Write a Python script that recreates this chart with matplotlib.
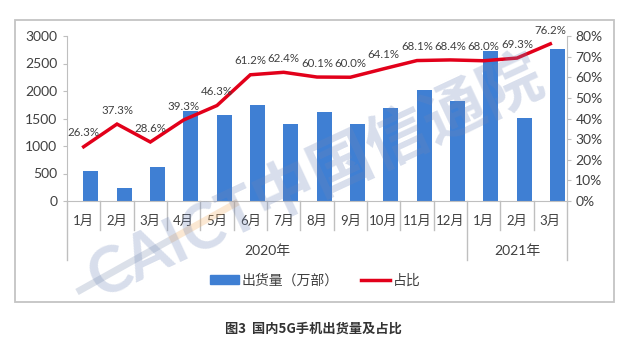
import matplotlib
matplotlib.use("Agg")
import matplotlib.pyplot as plt
from matplotlib.lines import Line2D
from matplotlib.patches import Patch, Rectangle
import numpy as np

plt.rcParams['font.family'] = ['Lato', 'Noto Sans CJK SC', 'DejaVu Sans']

months = ['1月', '2月', '3月', '4月', '5月', '6月', '7月', '8月', '9月',
          '10月', '11月', '12月', '1月', '2月', '3月']
years = ['2020年', '2021年']
year_spans = [12, 3]
shipments = [550, 240, 625, 1640, 1565, 1750, 1395, 1620, 1400,
             1685, 2010, 1825, 2730, 1515, 2760]
share = [26.3, 37.3, 28.6, 39.3, 46.3, 61.2, 62.4, 60.1, 60.0,
         64.1, 68.1, 68.4, 68.0, 69.3, 76.2]

blue = '#3f7fd3'
red = '#e2001a'
grey = '#bfbfbf'
txt = '#404040'

fig = plt.figure(figsize=(6.3, 3.39), dpi=100)
W, H = 630, 339

# outer frame
fig.patches.append(Rectangle((15 / W, 1 - 302 / H), 599 / W, 282 / H,
                             transform=fig.transFigure, fill=False,
                             ec='#c4c4c4', lw=1.3))

ax = fig.add_axes([67 / W, 1 - 201 / H, 500 / W, 165 / H])
x = np.arange(len(months))
ax.bar(x + 0.21, shipments, width=0.45, color=blue, zorder=2)
ax.set_xlim(-0.5, len(months) - 0.5)
ax.set_ylim(0, 3000)
ax.set_yticks(range(0, 3001, 500))
ax.set_xticks([])
ax.tick_params(axis='y', length=3, color=grey, labelcolor=txt, labelsize=10, pad=4)
for s in ['top', 'right']:
    ax.spines[s].set_visible(False)
for s in ['left', 'bottom']:
    ax.spines[s].set_color(grey)

ax2 = ax.twinx()
ax2.plot(x, share, color=red, lw=2.5, solid_joinstyle='miter', zorder=3)
ax2.set_ylim(0, 80)
ax2.set_yticks(range(0, 81, 10))
ax2.set_yticklabels([f'{v}%' for v in range(0, 81, 10)])
ax2.tick_params(axis='y', length=3, color=grey, labelcolor=txt, labelsize=10, pad=3)
for s in ['top', 'left', 'bottom']:
    ax2.spines[s].set_visible(False)
ax2.spines['right'].set_color(grey)
for xi, v in zip(x, share):
    ax2.annotate(f'{v:.1f}%', (xi, v), xytext=(0, 6), textcoords='offset points',
                 ha='center', va='bottom', fontsize=8.3, color=txt, clip_on=False)

# category axis: months, years, separators
tr = ax.get_xaxis_transform()
for xi, m in zip(x, months):
    ax.text(xi, -0.121, m, transform=tr, ha='center', va='center',
            fontsize=9.5, color=txt)
edges = np.cumsum([0] + year_spans)
for i in range(len(months) + 1):
    low = -0.358 if i in edges else -0.176
    ax.plot([i - 0.5, i - 0.5], [0, low], transform=tr, color=grey,
            lw=1, clip_on=False)
for yr, a, b in zip(years, edges[:-1], edges[1:]):
    ax.text((a + b - 1) / 2, -0.303, yr, transform=tr, ha='center',
            va='center', fontsize=10, color=txt)

fig.legend(handles=[Patch(color=blue), Line2D([], [], color=red, lw=2.5)],
           labels=['出货量（万部）', '占比'], loc='center',
           bbox_to_anchor=(0.5, 1 - 280 / H), ncol=2, frameon=False,
           fontsize=10, handlelength=2.1, handleheight=0.6,
           columnspacing=1.6, handletextpad=0.2, labelcolor=txt)

# watermark
fig.text(316 / W, 1 - 178 / H, 'CAICT中国信通院', rotation=25,
         rotation_mode='anchor', ha='center', va='center', fontsize=45,
         fontweight='bold', color='#6f86b8', alpha=0.27, zorder=5)
fig.add_artist(Line2D([77 / W, 170 / W], [1 - 292 / H, 1 - 240 / H],
                      transform=fig.transFigure, color='#8a9ab8',
                      alpha=0.3, lw=5, solid_capstyle='butt'))
fig.add_artist(Line2D([170 / W, 238 / W], [1 - 240 / H, 1 - 202 / H],
                      transform=fig.transFigure, color='#f2b56e',
                      alpha=0.3, lw=5, solid_capstyle='butt'))

fig.text(313 / W, 1 - 329 / H, '图3  国内5G手机出货量及占比', ha='center',
         va='center', fontsize=9.5, fontweight='bold', color='#333333',
         family=['Noto Sans CJK SC'])

fig.savefig('out.png', dpi=100)
